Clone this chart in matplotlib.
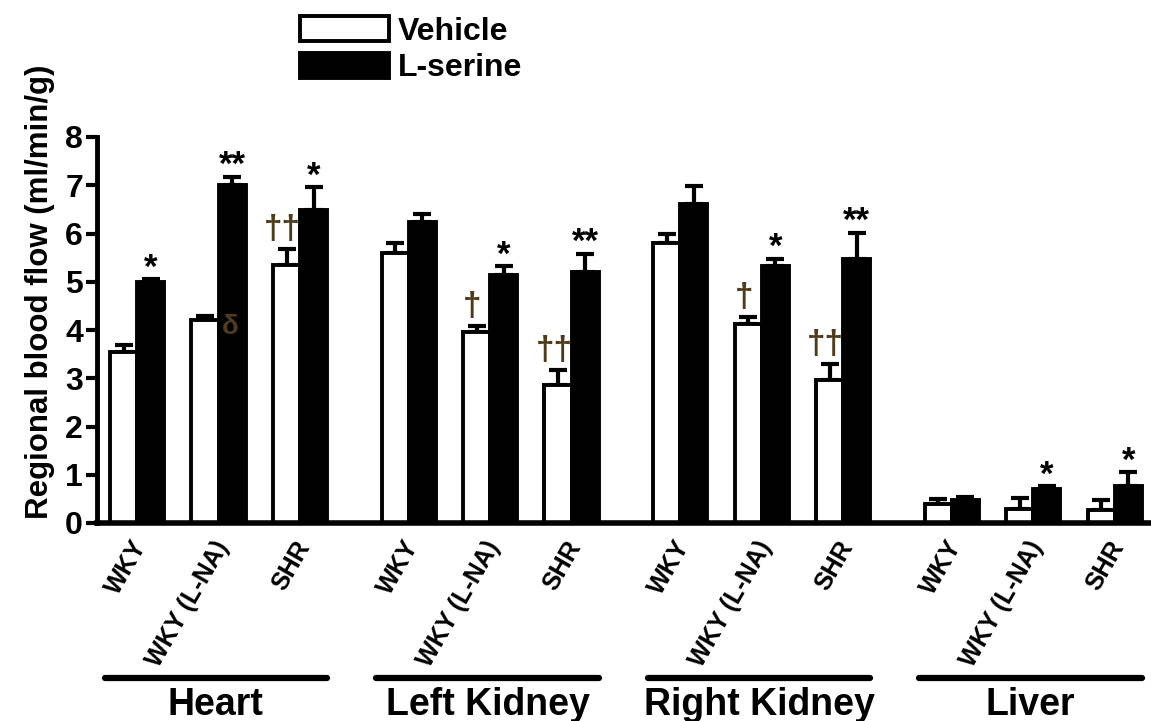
import numpy as np
import matplotlib.pyplot as plt

plt.rcParams['font.family'] = ['Liberation Sans', 'DejaVu Sans']
plt.rcParams['font.weight'] = 'bold'

organs = ['Heart', 'Left Kidney', 'Right Kidney', 'Liver']
groups = ['WKY', 'WKY (L-NA)', 'SHR']

# means / SEM, one row per organ, columns follow `groups`
vehicle_mean = [[3.55, 4.21, 5.35],
                [5.59, 3.95, 2.86],
                [5.80, 4.12, 2.97],
                [0.39, 0.28, 0.26]]
vehicle_sem = [[0.13, 0.08, 0.33],
               [0.22, 0.13, 0.31],
               [0.19, 0.15, 0.32],
               [0.11, 0.23, 0.21]]
serine_mean = [[4.99, 7.00, 6.48],
               [6.23, 5.15, 5.20],
               [6.62, 5.32, 5.48],
               [0.48, 0.70, 0.77]]
serine_sem = [[0.07, 0.18, 0.48],
              [0.18, 0.17, 0.38],
              [0.36, 0.16, 0.54],
              [0.05, 0.06, 0.28]]

# significance marks
serine_marks = [['*', '**', '*'],
                ['', '*', '**'],
                ['', '*', '**'],
                ['', '*', '*']]
vehicle_marks = [['', '', '††'],
                 ['', '†', '††'],
                 ['', '†', '††'],
                 ['', '', '']]
delta_at = (0, 1)  # organ, group

BROWN = '#4f3c1c'

vm = np.array(vehicle_mean).ravel()
vs = np.array(vehicle_sem).ravel()
sm = np.array(serine_mean).ravel()
ss = np.array(serine_sem).ravel()

n_org, n_grp = len(organs), len(groups)
start = np.array([o * 10 + g * 3 for o in range(n_org) for g in range(n_grp)], dtype=float)
xv = start + 0.5
xs = start + 1.5

fig = plt.figure(figsize=(11.51, 7.21), dpi=100)
ax = fig.add_axes([97 / 1151, 198 / 721, 1053 / 1151, 386 / 721])

ax.bar(xv, vm, width=1.0, color='white', edgecolor='black', linewidth=2.8, zorder=2)
ax.bar(xs, sm, width=1.0, color='black', edgecolor='black', linewidth=2.8, zorder=2)
ax.errorbar(xv, vm, yerr=[np.zeros_like(vs), vs], fmt='none', ecolor='black',
            elinewidth=3, capsize=6.5, capthick=3, zorder=1)
ax.errorbar(xs, sm, yerr=[np.zeros_like(ss), ss], fmt='none', ecolor='black',
            elinewidth=3, capsize=6.5, capthick=3, zorder=1)

ax.set_xlim(-0.48, 38.3)
ax.set_ylim(0, 8)
ax.set_yticks(range(0, 9))
ax.tick_params(axis='y', length=8, width=3, labelsize=23, pad=2)
ax.tick_params(axis='x', bottom=False, labelbottom=False)
for lab in ax.get_yticklabels():
    lab.set_fontweight('bold')
for side in ['top', 'right']:
    ax.spines[side].set_visible(False)
ax.spines['left'].set_linewidth(3.5)
ax.spines['bottom'].set_linewidth(4)
ax.spines['bottom'].set_zorder(3)

ax.set_ylabel('Regional blood flow (ml/min/g)', fontsize=22.5, fontweight='bold')
ax.yaxis.set_label_coords(-0.040, 0.60)

# marks above bars
k = 0
for o in range(n_org):
    for g in range(n_grp):
        if serine_marks[o][g]:
            ax.annotate(serine_marks[o][g], (xs[k], sm[k] + ss[k]), xytext=(0, -4),
                        textcoords='offset points', ha='center', va='bottom',
                        fontsize=25, fontweight='bold', color='black')
        if vehicle_marks[o][g]:
            ax.annotate(vehicle_marks[o][g], (xv[k] - 0.15, vm[k] + vs[k]), xytext=(0, 3),
                        textcoords='offset points', ha='center', va='bottom',
                        fontsize=24, fontweight='bold', color=BROWN)
        if (o, g) == delta_at:
            ax.annotate('δ', (xv[k] + 0.5, vm[k]), xytext=(2, -5),
                        textcoords='offset points', ha='left', va='center',
                        fontsize=20, fontweight='bold', color=BROWN)
        k += 1

# group tick labels
trans = ax.get_xaxis_transform()
for k in range(len(start)):
    ax.annotate(groups[k % n_grp], (start[k] + 1.0, 0), xycoords=trans,
                xytext=(3, -14), textcoords='offset points', rotation=60,
                rotation_mode='anchor', ha='right', va='center',
                fontsize=18, fontweight='bold')

# organ lines and names
for o, name in enumerate(organs):
    x0 = o * 10 - 0.2
    x1 = o * 10 + (n_grp - 1) * 3 + 2.0
    ax.plot([x0, x1], [-0.402, -0.402], transform=trans, color='black',
            linewidth=4.5, solid_capstyle='round', clip_on=False)
    ax.text((x0 + x1) / 2, -0.497, name, transform=trans, ha='center', va='baseline',
            fontsize=27, fontweight='bold')

# legend
h_veh = plt.Rectangle((0, 0), 1, 1, facecolor='white', edgecolor='black', linewidth=2.8)
h_ser = plt.Rectangle((0, 0), 1, 1, facecolor='black', edgecolor='black', linewidth=2.8)
fig.legend([h_veh, h_ser], ['Vehicle', 'L-serine'], loc='upper left',
           bbox_to_anchor=(300 / 1151, 1 - 16 / 721), frameon=False,
           prop={'size': 23, 'weight': 'bold'}, handlelength=2.8, handleheight=0.85,
           handletextpad=0.25, labelspacing=0.18, borderpad=0, borderaxespad=0)

fig.savefig('out.png', dpi=100)
